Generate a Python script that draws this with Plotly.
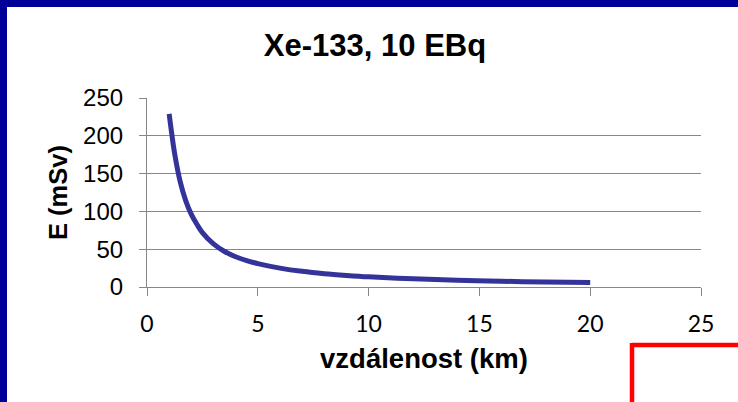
import plotly.graph_objects as go

# Data
distance_km = [1, 1.25, 1.5, 1.75, 2, 2.25, 2.5, 3, 3.5, 4, 4.5, 5, 6, 7, 8, 9, 10, 12, 14, 16, 18, 20]
dose_msv = [229, 176, 139, 114, 96, 83, 72, 57, 47, 40, 35, 31, 25, 20.7, 17.6, 15.3, 13.4, 10.8, 9.0, 7.6, 6.6, 5.8]
x_ticks = [0, 5, 10, 15, 20, 25]
y_ticks = [0, 50, 100, 150, 200, 250]

title_text = "Xe-133, 10 EBq"
x_title = "vzdálenost (km)"
y_title = "E (mSv)"

W, H = 738, 402
ML, MR, MT, MB = 147, 37, 98, 115
PW, PH = W - ML - MR, H - MT - MB


def px_to_paper_x(px):
    return (px - ML) / PW


def px_to_paper_y(py):
    return (H - MB - py) / PH


fig = go.Figure()
fig.add_trace(go.Scatter(
    x=distance_km, y=dose_msv, mode="lines",
    line=dict(color="#333399", width=5, shape="spline", smoothing=1.0),
    showlegend=False, hoverinfo="x+y",
))

navy = "#000099"
shapes = [
    # left frame band
    dict(type="rect", xref="paper", yref="paper",
         x0=px_to_paper_x(0), x1=px_to_paper_x(7), y0=px_to_paper_y(H), y1=px_to_paper_y(0),
         fillcolor=navy, line=dict(width=0), layer="above"),
    # top frame band
    dict(type="rect", xref="paper", yref="paper",
         x0=px_to_paper_x(0), x1=px_to_paper_x(W), y0=px_to_paper_y(7), y1=px_to_paper_y(0),
         fillcolor=navy, line=dict(width=0), layer="above"),
    # red rectangle corner (bottom right)
    dict(type="line", xref="paper", yref="paper",
         x0=px_to_paper_x(632), x1=px_to_paper_x(W + 5), y0=px_to_paper_y(345), y1=px_to_paper_y(345),
         line=dict(color="#ff0000", width=4.5), layer="above"),
    dict(type="line", xref="paper", yref="paper",
         x0=px_to_paper_x(632), x1=px_to_paper_x(632), y0=px_to_paper_y(343), y1=px_to_paper_y(H + 5),
         line=dict(color="#ff0000", width=4.5), layer="above"),
]

grey = "#878787"
fig.update_layout(
    width=W, height=H,
    margin=dict(l=ML, r=MR, t=MT, b=MB, pad=0),
    paper_bgcolor="white", plot_bgcolor="white",
    title=dict(text=title_text, x=375 / W, xref="container", xanchor="center",
               y=1 - 45 / H, yref="container", yanchor="middle",
               font=dict(family="Liberation Sans, Arial", size=31, color="black", weight="bold")),
    xaxis=dict(
        range=[0, 25], tickvals=x_ticks, ticktext=[str(v) for v in x_ticks],
        showgrid=False, zeroline=False, showline=True, linecolor=grey, linewidth=1.2,
        ticks="outside", ticklen=8, tickcolor=grey, tickwidth=1.2,
        tickfont=dict(family="Lato, Open Sans", size=23, color="black"),
        ticklabelstandoff=8,
        title=dict(text=x_title, standoff=13,
                   font=dict(family="Liberation Sans, Arial", size=27.5, color="black", weight="bold")),
        fixedrange=True,
    ),
    yaxis=dict(
        range=[0, 250], tickvals=y_ticks, ticktext=[str(v) for v in y_ticks],
        showgrid=True, gridcolor=grey, gridwidth=1.2,
        zeroline=False, showline=True, linecolor=grey, linewidth=1.2,
        ticks="outside", ticklen=7, tickcolor=grey, tickwidth=1.2,
        tickfont=dict(family="Liberation Sans, Arial", size=24, color="black"),
        ticklabelstandoff=11,
        title=dict(text=y_title, standoff=8,
                   font=dict(family="Liberation Sans, Arial", size=25.5, color="black", weight="bold")),
        fixedrange=True,
    ),
    shapes=shapes,
)

fig.write_html("out.html")
